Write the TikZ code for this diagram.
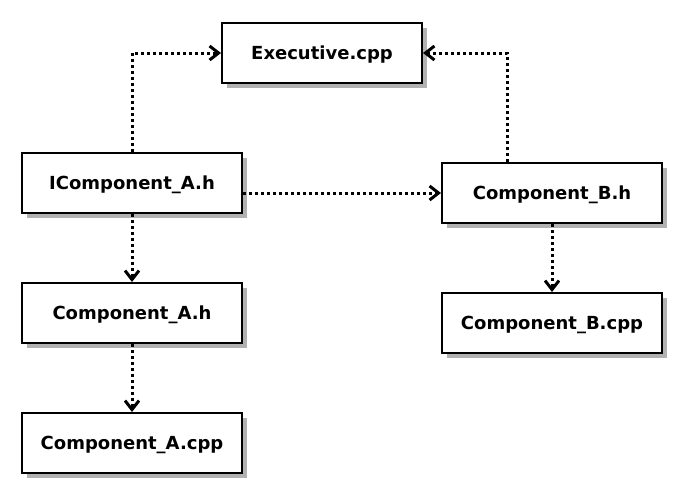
\documentclass[tikz,border=0pt]{standalone}
\usepackage{fontspec}
\setmainfont{DejaVu Sans}
\usetikzlibrary{arrows.meta}
\usetikzlibrary{shadows}

\begin{document}
\begin{tikzpicture}[x=1pt,y=-1pt,
    file/.style={draw, line width=2pt, fill=white, minimum width=220pt,
      minimum height=60pt, inner sep=0pt, text height=13pt, text depth=0pt,
      font=\bfseries\fontsize{18}{21}\selectfont,
      drop shadow={shadow xshift=5pt, shadow yshift=-5pt, fill=black!30, opacity=1}},
    dep/.style={line width=3pt, dash pattern=on 3pt off 3pt,
      -{Straight Barb[length=9pt,width=14pt,line width=3pt]}}]
      \useasboundingbox (0,0) rectangle (682,490);
      % files
      \node[file, minimum width=200pt] (exec) at (322,53) {Executive.cpp};
      \node[file] (ia) at (132,183) {IComponent\_A.h};
      \node[file] (ah) at (132,313) {Component\_A.h};
      \node[file] (acpp) at (132,443) {Component\_A.cpp};
      \node[file] (bh) at (552,193) {Component\_B.h};
      \node[file] (bcpp) at (552,323) {Component\_B.cpp};
      % dependencies
      \draw[dep] (ia.north) |- (exec.west);
      \draw[dep] ([xshift=-45pt]bh.north) |- (exec.east);
      \draw[dep] (ia.east |- bh.west) -- (bh.west);
      \draw[dep] (ia.south) -- (ah.north);
      \draw[dep] (ah.south) -- (acpp.north);
      \draw[dep] (bh.south) -- (bcpp.north);
    \end{tikzpicture}
\end{document}
